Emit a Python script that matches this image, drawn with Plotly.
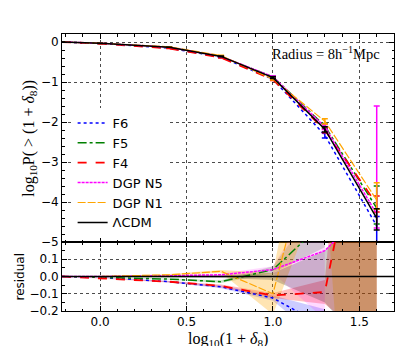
import plotly.graph_objects as go
from plotly.subplots import make_subplots

# bin centres, log10(1 + delta_8)
log_delta = [-0.22, 0.0, 0.4, 0.7, 1.0, 1.3, 1.6]

# log10 P(>(1+delta_8)) per model, with upper / lower error (in log units)
p_f6 = [0.0, -0.035, -0.15, -0.38, -0.93, -2.33, -4.60]
p_f6_up = [0, 0, 0, 0.01, 0.02, 0.06, 0.24]
p_f6_dn = [0, 0, 0, 0.01, 0.02, 0.07, 0.60]

p_f5 = [0.0, -0.035, -0.14, -0.37, -0.87, -2.10, -4.15]
p_f5_up = [0, 0, 0, 0.01, 0.02, 0.06, 0.55]
p_f5_dn = [0, 0, 0, 0.01, 0.02, 0.07, 0.40]

p_f4 = [0.0, -0.04, -0.16, -0.39, -0.94, -2.20, -4.05]
p_f4_up = [0, 0, 0, 0.01, 0.02, 0.06, 0.20]
p_f4_dn = [0, 0, 0, 0.01, 0.02, 0.07, 0.20]

p_n5 = [0.0, -0.03, -0.13, -0.36, -0.87, -2.12, -4.30]
p_n5_up = [0, 0, 0, 0.01, 0.02, 0.06, 2.70]
p_n5_dn = [0, 0, 0, 0.01, 0.02, 0.07, 0.35]

p_n1 = [0.0, -0.03, -0.12, -0.34, -0.93, -1.98, -3.95]
p_n1_up = [0, 0, 0, 0.01, 0.02, 0.06, 0.43]
p_n1_dn = [0, 0, 0, 0.01, 0.02, 0.07, 0.23]

p_lcdm = [0.0, -0.03, -0.13, -0.36, -0.89, -2.18, -4.40]
p_lcdm_up = [0, 0, 0, 0.01, 0.02, 0.06, 0.23]
p_lcdm_dn = [0, 0, 0, 0.01, 0.02, 0.07, 0.30]

# residual w.r.t. LCDM and its error band (None = band not defined)
r_f6 = [0, -0.005, -0.03, -0.06, -0.125, -0.29, -0.37]
r_f6_err = [0, 0.002, 0.004, 0.008, 0.015, 0.10, None]
r_f5 = [0, -0.005, -0.015, -0.03, 0.04, 0.32, 0.80]
r_f5_err = [0, 0.002, 0.004, 0.008, 0.02, 0.15, None]
r_f4 = [0, -0.01, -0.03, -0.055, -0.11, -0.09, 1.40]
r_f4_err = [0, 0.002, 0.004, 0.008, 0.015, 0.07, 1.8]
r_n5 = [0, 0.0, 0.005, 0.01, 0.04, 0.15, 0.45]
r_n5_err = [0, 0.002, 0.004, 0.008, 0.02, 0.40, None]
r_n1 = [0, 0.0, 0.01, 0.03, -0.10, 1.07, 2.50]
r_n1_err = [0, 0.002, 0.004, 0.008, 0.12, 0.50, 6.0]
r_lcdm = [0, 0, 0, 0, 0, 0, 0]
r_lcdm_err = [0, 0.002, 0.004, 0.008, 0.02, 0.15, 0.5]

models = [
    # name, main, up, dn, resid, resid err, color, band rgb, band alpha, dash, width
    ("F6", p_f6, p_f6_up, p_f6_dn, r_f6, r_f6_err, "#0000ff", "0,0,255", 0.2, "dot", 1.5),
    ("F5", p_f5, p_f5_up, p_f5_dn, r_f5, r_f5_err, "#008000", "0,128,0", 0.2, "dashdot", 1.5),
    ("F4", p_f4, p_f4_up, p_f4_dn, r_f4, r_f4_err, "#ff0000", "255,0,0", 0.25, "dash", 1.8),
    ("DGP N5", p_n5, p_n5_up, p_n5_dn, r_n5, r_n5_err, "#ff00ff", "255,0,255", 0.15, "3px,1px", 1.5),
    ("DGP N1", p_n1, p_n1_up, p_n1_dn, r_n1, r_n1_err, "#ffa500", "255,165,0", 0.3, "8px,2px", 1.2),
    ("ΛCDM", p_lcdm, p_lcdm_up, p_lcdm_dn, None, r_lcdm_err, "#000000", "0,0,0", 0.2, "solid", 1.5),
]

fig = make_subplots(rows=2, cols=1, shared_xaxes=True, vertical_spacing=0,
                    row_heights=[0.751, 0.249])

# ── residual bands ──────────────────────────────────────────────
for name, p, up, dn, res, rerr, col, rgb, alpha, dash, lw in models:
    base = res if res is not None else r_lcdm
    xs, hi, lo = [], [], []
    for x, v, e in zip(log_delta, base, rerr):
        if e is None:
            continue
        xs.append(x); hi.append(v + e); lo.append(v - e)
    fig.add_trace(go.Scatter(
        x=xs + xs[::-1], y=hi + lo[::-1], fill="toself", mode="lines",
        line=dict(width=0), fillcolor=f"rgba({rgb},{alpha})",
        showlegend=False, hoverinfo="skip"), row=2, col=1)

# ── residual lines ──────────────────────────────────────────────
for name, p, up, dn, res, rerr, col, rgb, alpha, dash, lw in models:
    if res is None:
        continue
    fig.add_trace(go.Scatter(
        x=log_delta, y=res, mode="lines",
        line=dict(color=col, width=lw, dash=dash),
        showlegend=False, hoverinfo="skip"), row=2, col=1)

fig.add_hline(y=0, line=dict(color="black", width=1.5), row=2, col=1)

# ── main panel ──────────────────────────────────────────────────
for name, p, up, dn, res, rerr, col, rgb, alpha, dash, lw in models:
    fig.add_trace(go.Scatter(
        x=log_delta, y=p, mode="lines", name=name,
        line=dict(color=col, width=lw, dash=dash),
        error_y=dict(type="data", symmetric=False, array=up, arrayminus=dn,
                     color=col, thickness=1.5, width=3),
    ), row=1, col=1)

fig.add_annotation(x=1.63, y=-0.27, xref="x", yref="y", xanchor="right", yanchor="middle",
                   text="Radius = 8h<sup>−1</sup>Mpc", showarrow=False,
                   font=dict(family="Liberation Serif", size=14.5, color="black"))

# axis titles as paper annotations (fixed positions)
serif = dict(family="Liberation Serif", size=16, color="black")
fig.add_annotation(x=-0.1, y=0.6245, xref="paper", yref="paper", textangle=-90,
                   xanchor="center", yanchor="middle",
                   text="log<sub>10</sub>P( > (1 + <i>δ</i><sub>8</sub>))",
                   showarrow=False, font=serif)
fig.add_annotation(x=-0.1265, y=0.1245, xref="paper", yref="paper", textangle=-90,
                   xanchor="center", yanchor="middle",
                   text="residual", showarrow=False,
                   font=dict(family="DejaVu Sans", size=12, color="black"))
fig.add_annotation(x=0.5, y=-0.103, xref="paper", yref="paper",
                   xanchor="center", yanchor="middle",
                   text="log<sub>10</sub>(1 + <i>δ</i><sub>8</sub>)",
                   showarrow=False, font=serif)

axis_common = dict(showline=True, linecolor="black", linewidth=1, mirror="allticks",
                   ticks="inside", ticklen=5, tickcolor="black", automargin=False,
                   showgrid=True, gridcolor="rgba(0,0,0,0.7)", griddash="dot",
                   gridwidth=1, zeroline=False,
                   tickfont=dict(family="DejaVu Sans", size=12, color="black"))

fig.update_xaxes(**axis_common, range=[-0.22, 1.7], dtick=0.5, tick0=0,
                 minor=dict(ticks="inside", ticklen=2.5, dtick=0.1, tick0=0,
                            tickcolor="black", showgrid=False))
fig.update_xaxes(showticklabels=False, row=1, col=1)
fig.update_xaxes(tickformat=".1f", row=2, col=1)

fig.update_yaxes(**axis_common, row=1, col=1, range=[-5, 0.2],
                 tickvals=[-5, -4, -3, -2, -1, 0],
                 minor=dict(ticks="inside", ticklen=2.5, dtick=0.2, tick0=0,
                            tickcolor="black", showgrid=False))
fig.update_yaxes(**axis_common, row=2, col=1, range=[-0.2, 0.2],
                 tickvals=[-0.2, -0.1, 0.0, 0.1], tickformat=".1f",
                 minor=dict(ticks="inside", ticklen=2.5, dtick=0.05, tick0=0,
                            tickcolor="black", showgrid=False))

fig.update_layout(
    width=415, height=346,
    margin=dict(l=62, r=21, t=34, b=35, autoexpand=False),
    paper_bgcolor="white", plot_bgcolor="white",
    legend=dict(x=0.032, y=0.733, xanchor="left", yanchor="top",
                bgcolor="white", borderwidth=0,
                font=dict(family="DejaVu Sans", size=13, color="black"),
                itemwidth=30),
)

fig.write_html("out.html", config={"displayModeBar": False},
               post_script="document.body.style.margin='0';")
